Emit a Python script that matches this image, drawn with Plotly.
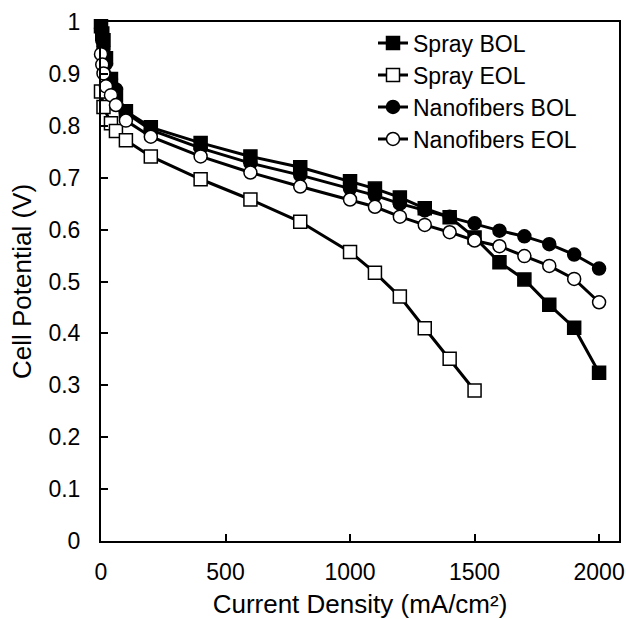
import plotly.graph_objects as go

# Current density (mA/cm2)
x_full = [0, 5, 10, 20, 40, 60, 100, 200, 400, 600, 800, 1000, 1100, 1200,
          1300, 1400, 1500, 1600, 1700, 1800, 1900, 2000]
x_eol_spray = [0, 10, 40, 60, 100, 200, 400, 600, 800, 1000, 1100, 1200,
               1300, 1400, 1500]

# Cell potential (V)
spray_bol = [0.992, 0.978, 0.965, 0.93, 0.89, 0.86, 0.828, 0.797, 0.767, 0.741,
             0.720, 0.693, 0.679, 0.662, 0.641, 0.624, 0.585, 0.537, 0.504,
             0.455, 0.411, 0.324]
spray_eol = [0.866, 0.836, 0.805, 0.79, 0.772, 0.741, 0.697, 0.658, 0.615,
             0.557, 0.517, 0.471, 0.410, 0.351, 0.290]
nano_bol = [0.988, 0.965, 0.948, 0.92, 0.89, 0.87, 0.825, 0.792, 0.757, 0.728,
            0.705, 0.679, 0.666, 0.650, 0.637, 0.625, 0.612, 0.598, 0.587,
            0.572, 0.552, 0.525]
nano_eol = [0.938, 0.918, 0.901, 0.876, 0.859, 0.840, 0.810, 0.779, 0.741, 0.710,
            0.683, 0.658, 0.644, 0.625, 0.609, 0.595, 0.579, 0.568, 0.549,
            0.530, 0.505, 0.460]

names = ["Spray BOL", "Spray EOL", "Nanofibers BOL", "Nanofibers EOL"]
FONT = "Arial, Liberation Sans, sans-serif"

fig = go.Figure()
series = [
    (x_full, spray_bol, "square", "black", "legend"),
    (x_eol_spray, spray_eol, "square", "white", "legend2"),
    (x_full, nano_bol, "circle", "black", "legend3"),
    (x_full, nano_eol, "circle", "white", "legend4"),
]
for (xs, ys, sym, fill, lg), nm in zip(series, names):
    fig.add_trace(go.Scatter(
        x=xs, y=ys, name=nm, mode="lines+markers",
        line=dict(color="black", width=3),
        marker=dict(symbol=sym, size=13, color=fill,
                    line=dict(color="black", width=1.5)),
        cliponaxis=False, legend=lg, showlegend=True,
    ))

L, R, T, B = 101, 7, 22, 78
W, H = 626, 619
ph = H - T - B
pw = W - L - R

def py(pix):
    return (H - B - pix) / ph

legx = (373 - L) / pw
leg_common = dict(x=legx, xanchor="left", yanchor="middle",
                  bgcolor="rgba(0,0,0,0)", borderwidth=0,
                  font=dict(family=FONT, size=23, color="black"))

fig.update_layout(
    width=W, height=H,
    margin=dict(l=L, r=R, t=T, b=B),
    paper_bgcolor="white", plot_bgcolor="white",
    showlegend=True,
    font=dict(family=FONT, size=23, color="black"),
    legend=dict(y=py(43), **leg_common),
    legend2=dict(y=py(75), **leg_common),
    legend3=dict(y=py(107), **leg_common),
    legend4=dict(y=py(139), **leg_common),
    xaxis=dict(
        range=[0, 2080], tickvals=[0, 500, 1000, 1500, 2000],
        showgrid=False, zeroline=False,
        showline=True, linecolor="black", linewidth=2, mirror=True,
        ticks="inside", ticklen=7, tickwidth=1.5, tickcolor="black",
        ticklabelstandoff=9,
        tickfont=dict(family=FONT, size=23, color="black"),
        title=dict(text="Current Density (mA/cm²)", standoff=11,
                   font=dict(family=FONT, size=26, color="black")),
        automargin=False,
    ),
    yaxis=dict(
        range=[0, 1], tickvals=[0, 0.1, 0.2, 0.3, 0.4, 0.5, 0.6, 0.7, 0.8, 0.9, 1],
        ticktext=["0", "0.1", "0.2", "0.3", "0.4", "0.5", "0.6", "0.7", "0.8", "0.9", "1"],
        showgrid=False, zeroline=False,
        showline=True, linecolor="black", linewidth=2, mirror=True,
        ticks="inside", ticklen=7, tickwidth=1.5, tickcolor="black",
        ticklabelstandoff=14,
        tickfont=dict(family=FONT, size=23, color="black"),
        title=dict(text="Cell Potential (V)", standoff=9,
                   font=dict(family=FONT, size=26, color="black")),
        automargin=False,
    ),
)

fig.write_html("out.html")
